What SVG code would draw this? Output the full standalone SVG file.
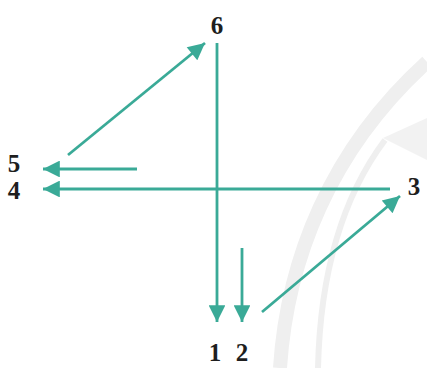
<svg xmlns="http://www.w3.org/2000/svg" width="427" height="368" viewBox="0 0 427 368">
<style>
.c{stroke:#3aaa97;stroke-width:2.8;fill:none}
.lbl{font-family:"Liberation Serif",serif;font-weight:bold;font-size:25px;fill:#1e1e1e;text-anchor:middle}
.wm{fill:none;stroke:#efefef}
</style>
<defs>
<marker id="ah" viewBox="0 0 10 10" refX="10" refY="5" markerWidth="7" markerHeight="6" markerUnits="strokeWidth" orient="auto">
<path d="M0,0 L10,5 L0,10 z" fill="#3aaa97"/>
</marker>
</defs>
<g id="watermark">
<path class="wm" stroke-width="14" d="M280,368 C287,260 330,150 427,62"/>
<path class="wm" stroke-width="6" d="M318,368 C320,280 340,200 385,140"/>
<path fill="#f2f2f2" d="M383,138 L427,118 L427,160 Z"/>
</g>
<g id="connectors">
<line class="c" x1="217" y1="43" x2="217" y2="322" marker-end="url(#ah)"/>
<line class="c" x1="242" y1="248" x2="242" y2="322" marker-end="url(#ah)"/>
<line class="c" x1="262" y1="312" x2="400" y2="196" marker-end="url(#ah)"/>
<line class="c" x1="390" y1="189" x2="43" y2="189" marker-end="url(#ah)"/>
<line class="c" x1="137" y1="169" x2="43" y2="169" marker-end="url(#ah)"/>
<line class="c" x1="68" y1="155" x2="205" y2="43" marker-end="url(#ah)"/>
</g>
<g id="n6"><text class="lbl" x="217" y="34">6</text></g>
<g id="n5"><text class="lbl" x="14" y="172">5</text></g>
<g id="n4"><text class="lbl" x="14" y="199">4</text></g>
<g id="n3"><text class="lbl" x="414" y="195">3</text></g>
<g id="n1"><text class="lbl" x="215" y="361">1</text></g>
<g id="n2"><text class="lbl" x="242" y="361">2</text></g>
</svg>
